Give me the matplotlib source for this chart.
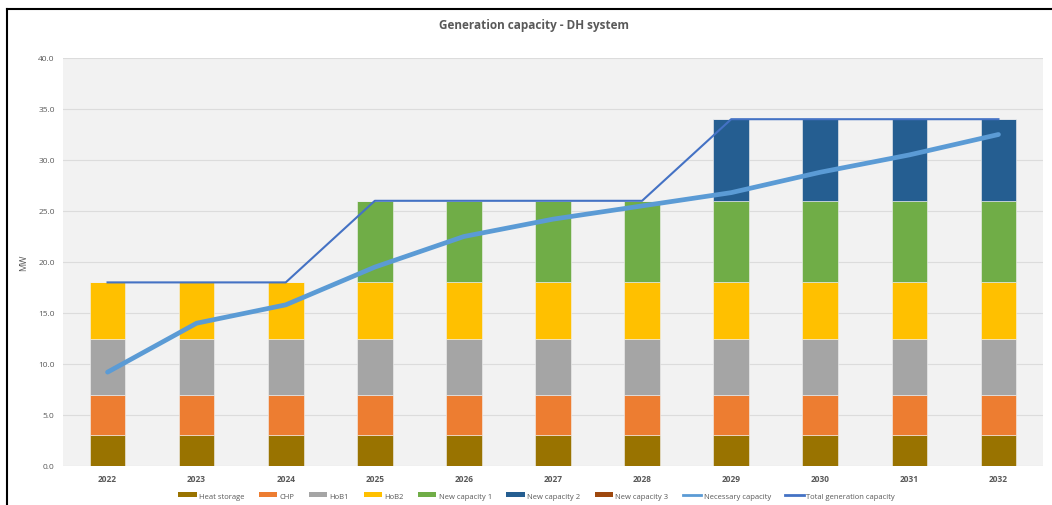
import matplotlib.pyplot as plt
import numpy as np
from matplotlib.lines import Line2D
from matplotlib.patches import Patch

plt.rcParams['font.family'] = ['Open Sans', 'DejaVu Sans']

years = ['2022', '2023', '2024', '2025', '2026', '2027', '2028', '2029', '2030', '2031', '2032']
heat_storage = [3, 3, 3, 3, 3, 3, 3, 3, 3, 3, 3]
chp = [4, 4, 4, 4, 4, 4, 4, 4, 4, 4, 4]
hob1 = [5.5, 5.5, 5.5, 5.5, 5.5, 5.5, 5.5, 5.5, 5.5, 5.5, 5.5]
hob2 = [5.5, 5.5, 5.5, 5.5, 5.5, 5.5, 5.5, 5.5, 5.5, 5.5, 5.5]
new_cap1 = [0, 0, 0, 8, 8, 8, 8, 8, 8, 8, 8]
new_cap2 = [0, 0, 0, 0, 0, 0, 0, 8, 8, 8, 8]
new_cap3 = [0, 0, 0, 0, 0, 0, 0, 0, 0, 0, 0]
necessary = [9.2, 14.0, 15.8, 19.5, 22.5, 24.2, 25.5, 26.8, 28.8, 30.5, 32.5]
total_gen = [18, 18, 18, 26, 26, 26, 26, 34, 34, 34, 34]

series = [
    ('Heat storage', heat_storage, '#997300'),
    ('CHP', chp, '#ed7d31'),
    ('HoB1', hob1, '#a5a5a5'),
    ('HoB2', hob2, '#ffc000'),
    ('New capacity 1', new_cap1, '#70ad47'),
    ('New capacity 2', new_cap2, '#255e91'),
    ('New capacity 3', new_cap3, '#9e480e'),
]

fig = plt.figure(figsize=(10.52, 5.06), dpi=100)
ax = fig.add_axes([63 / 1052, 1 - 467 / 506, (1043 - 63) / 1052, (467 - 59) / 506])
ax.set_facecolor('#f2f2f2')

x = np.arange(len(years))
bottom = np.zeros(len(years))
handles = []
for name, vals, col in series:
    vals = np.array(vals, dtype=float)
    ax.bar(x, vals, 0.4, bottom=bottom, color=col, edgecolor='#f2f2f2', linewidth=0.4, zorder=2)
    bottom += vals
    handles.append(Patch(facecolor=col, label=name))

ax.plot(x, necessary, color='#5b9bd5', lw=3.4, solid_capstyle='round', zorder=3)
ax.plot(x, total_gen, color='#4472c4', lw=1.5, zorder=4)
handles.append(Line2D([], [], color='#5b9bd5', lw=2, label='Necessary capacity'))
handles.append(Line2D([], [], color='#4472c4', lw=2, label='Total generation capacity'))

ax.set_xlim(-0.5, 10.5)
ax.set_ylim(0, 40)
ax.set_yticks(np.arange(0, 40.1, 5))
ax.set_yticklabels([f'{v:.1f}' for v in np.arange(0, 40.1, 5)])
ax.set_xticks(x)
ax.set_xticklabels(years, fontweight='bold')
ax.grid(axis='y', color='#dcdcdc', lw=0.8, zorder=0)
ax.set_axisbelow(True)
for s in ax.spines.values():
    s.set_visible(False)
ax.tick_params(length=0, labelsize=6, colors='#595959', pad=6)
ax.set_ylabel('MW', fontsize=6.5, color='#595959', labelpad=7)

fig.text(0.508, 1 - 26 / 506, 'Generation capacity - DH system', ha='center', va='center',
         fontsize=8.5, fontweight='bold', color='#595959')

fig.legend(handles=handles, loc='center', bbox_to_anchor=(0.51, 1 - 497 / 506), ncol=9,
           frameon=False, fontsize=5.5, handlelength=2.4, handleheight=0.6, columnspacing=1.9,
           handletextpad=0.3, labelcolor='#595959')

# screenshot frame
fig.add_artist(Line2D([7 / 1052, 7 / 1052], [0, 1 - 10 / 506], color='black', lw=1.5))
fig.add_artist(Line2D([7 / 1052, 1], [1 - 10 / 506, 1 - 10 / 506], color='black', lw=1.5))

fig.savefig('out.png', dpi=100)
